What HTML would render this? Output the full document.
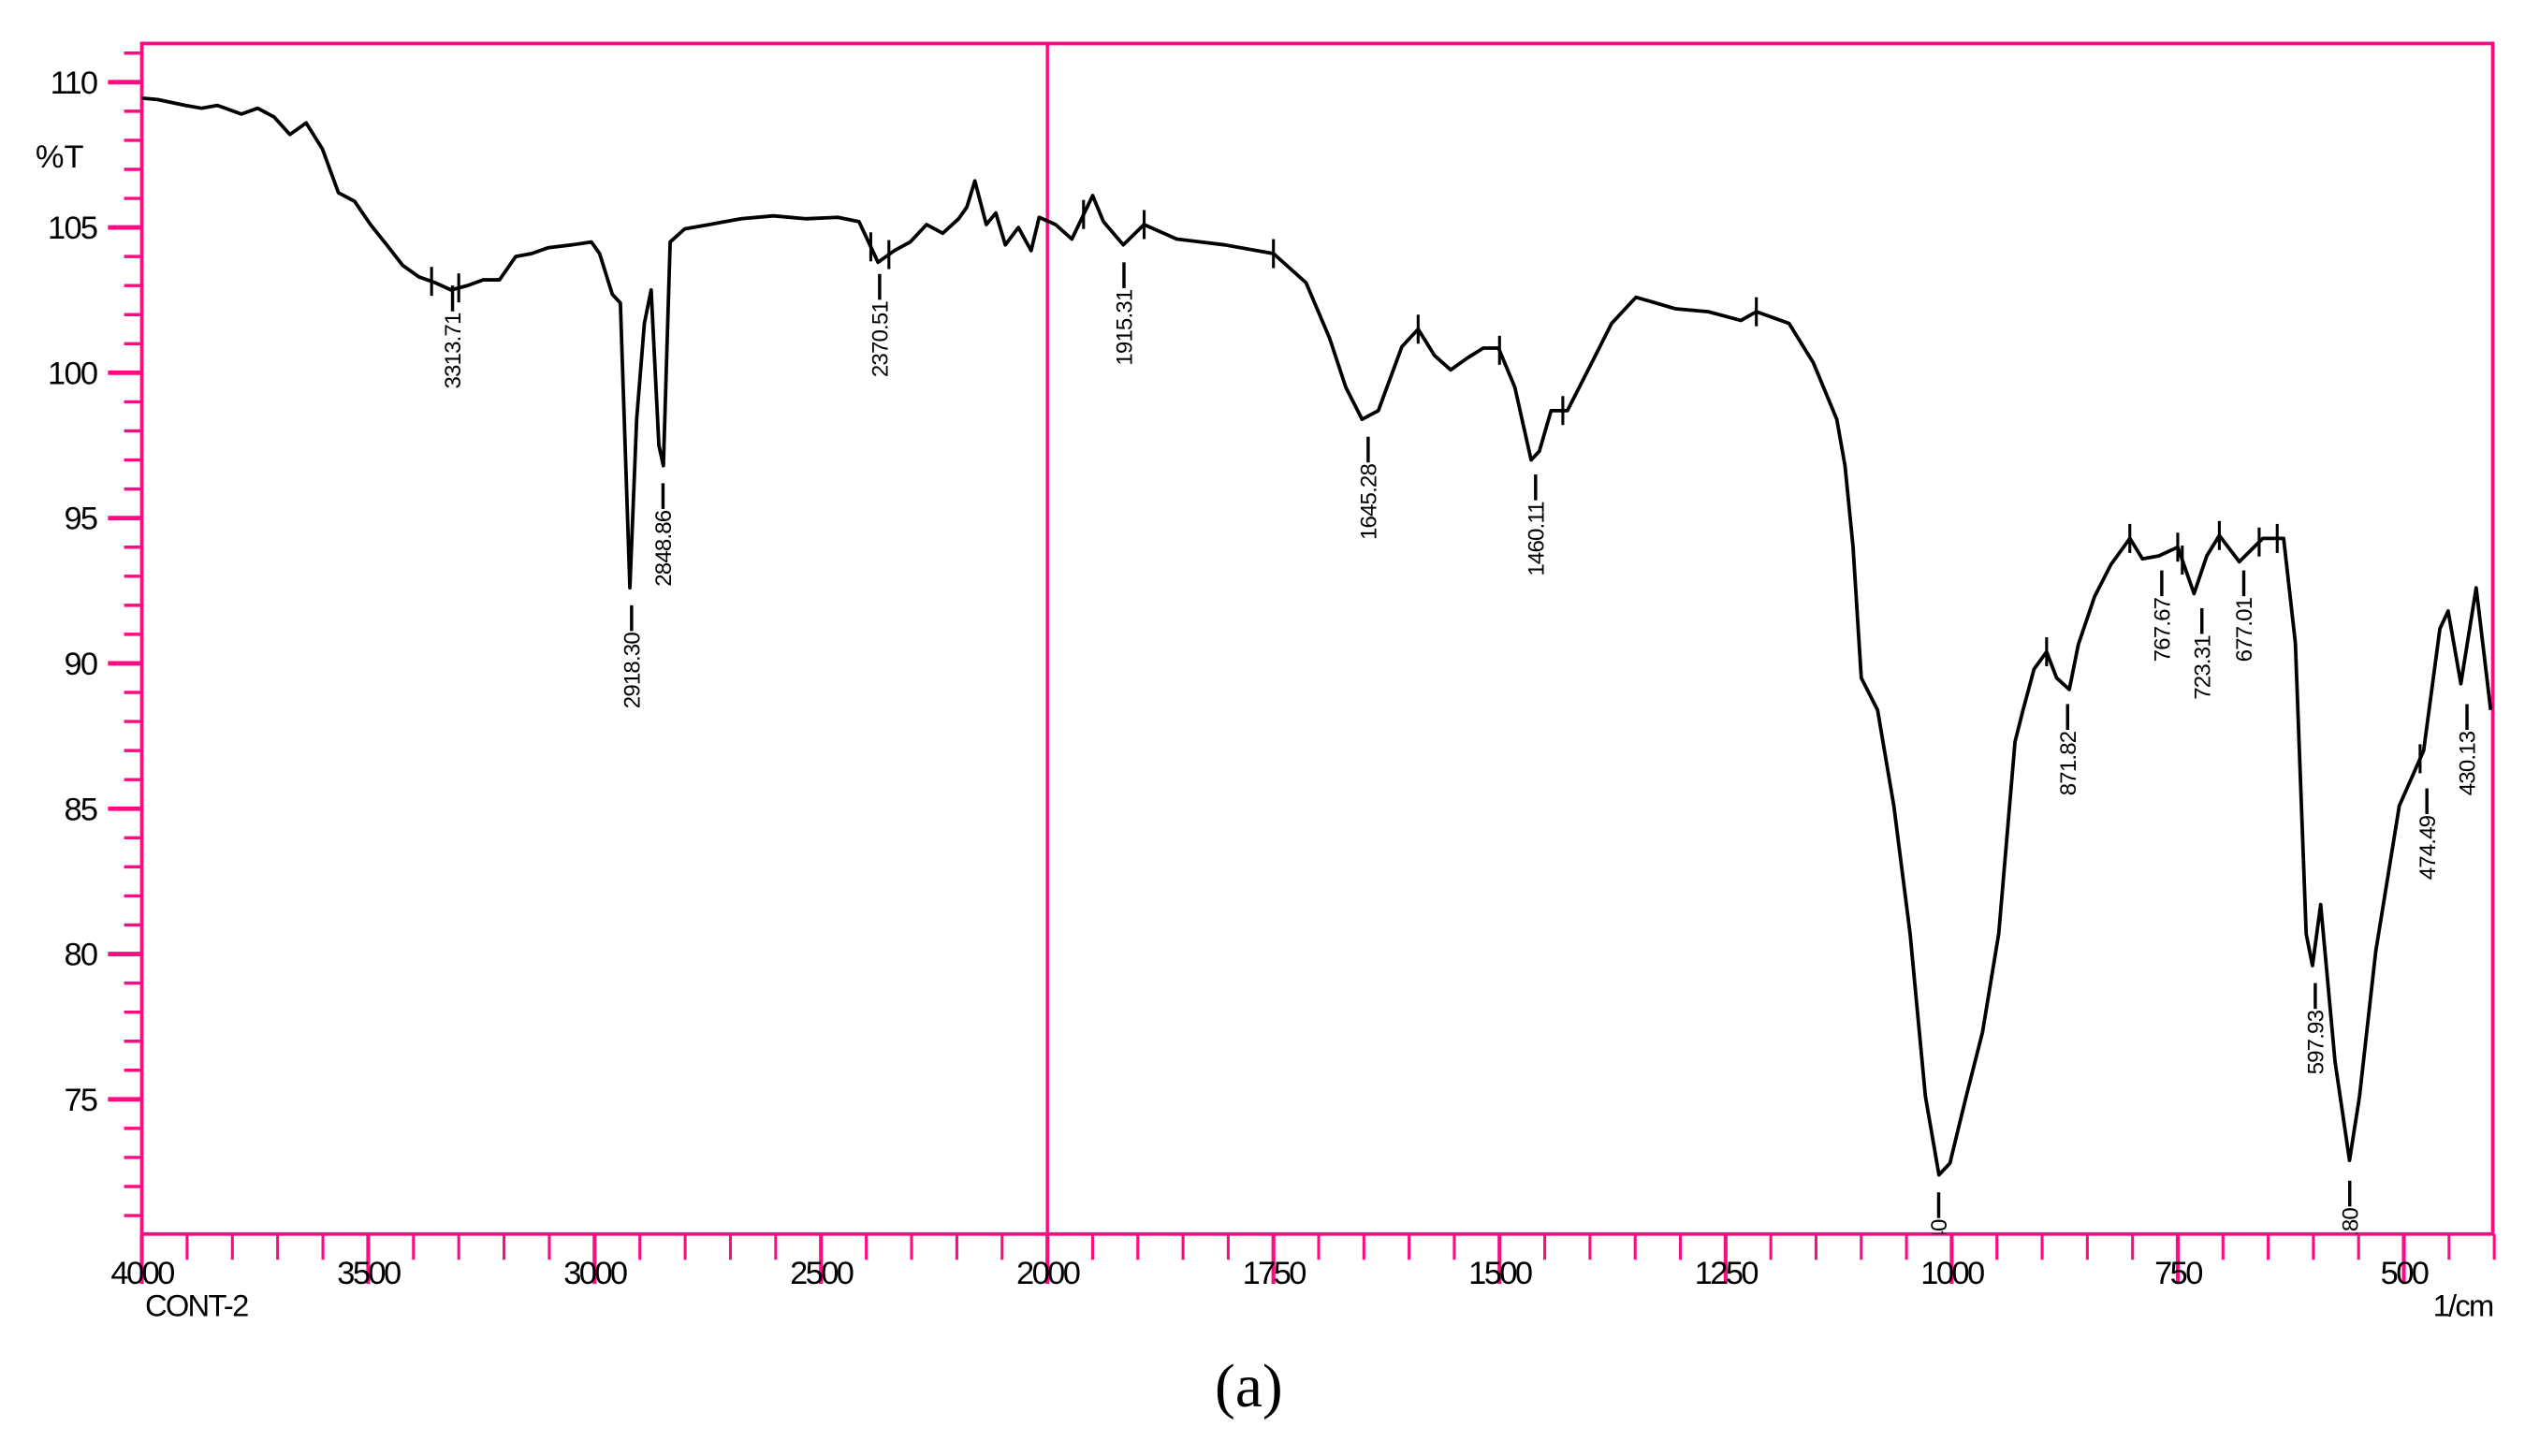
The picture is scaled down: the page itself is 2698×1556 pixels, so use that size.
<!DOCTYPE html>
<html><head><meta charset="utf-8"><style>
html,body{margin:0;padding:0;background:#fff;}
svg{display:block;font-family:"Liberation Sans",sans-serif;}
</style></head><body>
<svg id="chart" width="2698" height="1556" viewBox="0 0 1567 903.8" preserveAspectRatio="none" xmlns="http://www.w3.org/2000/svg">
<defs><clipPath id="plotclip"><rect x="88" y="27" width="1459" height="739"/></clipPath></defs>
<g id="axes"></g>
<g id="series" clip-path="url(#plotclip)"></g>
<text x="90" y="817" font-size="19" letter-spacing="-1">CONT-2</text>
<text x="1547" y="817" font-size="19" letter-spacing="-1" text-anchor="end">1/cm</text>
<text x="22" y="104" font-size="20">%T</text>
<text x="775" y="873" font-size="38" text-anchor="middle" font-family="Liberation Serif,serif">(a)</text>
</svg>
<script>
const wavenumbers=[4000,3965,3904,3868,3833,3780,3744,3708,3673,3637,3601,3566,3530,3495,3459,3424,3388,3352,3317,3281,3246,3210,3174,3139,3103,3050,3007,2989,2961,2943,2922,2907,2890,2875,2858,2848,2833,2801,2747,2676,2605,2534,2463,2416,2374,2338,2303,2267,2231,2196,2178,2160,2135,2114,2093,2064,2036,2018,1991,1973,1950,1938,1916,1893,1857,1804,1750,1714,1688,1670,1652,1634,1608,1590,1572,1554,1536,1518,1501,1483,1465,1456,1443,1425,1402,1376,1349,1305,1269,1233,1216,1180,1153,1127,1118,1109,1100,1082,1064,1046,1029,1014,1002,984,966,948,930,921,909,895,884,870,860,842,824,803,789,771,750,732,718,704,682,656,633,620,608,601,592,576,560,549,531,505,478,460,451,437,420,404];
const transmittance=[109.45,109.4,109.2,109.1,109.2,108.9,109.1,108.8,108.2,108.6,107.7,106.2,105.9,105.1,104.4,103.7,103.3,103.1,102.85,103.0,103.2,103.2,104.0,104.1,104.3,104.4,104.5,104.1,102.7,102.4,92.6,98.4,101.7,102.85,97.5,96.8,104.5,104.95,105.1,105.3,105.4,105.3,105.35,105.2,103.8,104.2,104.5,105.1,104.8,105.3,105.7,106.6,105.1,105.5,104.4,105.0,104.2,105.35,105.1,104.6,106.1,105.2,104.4,105.1,104.6,104.4,104.1,103.1,101.2,99.5,98.4,98.7,100.9,101.5,100.6,100.1,100.5,100.85,100.85,99.5,97.0,97.3,98.7,98.7,100.1,101.7,102.6,102.2,102.1,101.8,102.1,101.7,100.35,98.4,96.8,94.0,89.5,88.4,85.1,80.7,75.1,72.4,72.8,75.1,77.3,80.7,87.3,88.4,89.8,90.4,89.5,89.1,90.65,92.3,93.4,94.3,93.6,93.7,94.0,92.4,93.7,94.4,93.5,94.3,94.3,90.7,80.7,79.6,81.7,76.3,72.9,75.1,80.1,85.1,87.0,91.2,91.8,89.3,92.6,88.4];
const peakLabels=["3313.71","2918.30","2848.86","2370.51","1915.31","1645.28","1460.11","1014.40","871.82","767.67","723.31","677.01","597.93","559.80","474.49","430.13"];
const peakWavenumbers=[3313.71,2918.30,2848.86,2370.51,1915.31,1645.28,1460.11,1014.40,871.82,767.67,723.31,677.01,597.93,559.80,474.49,430.13];
const peakLabelTops=[103.0,92.0,96.2,103.4,103.8,97.8,96.5,71.8,88.6,93.2,91.9,93.2,79.0,72.2,85.7,88.6];
const curveTickWns=[3360,3300,2390,2350,1960,1893,1750,1590,1500,1430,1216,895,803,750,745,704,660,640,482];
const yTickLabels=[75,80,85,90,95,100,105,110];
const xTickLabels=[4000,3500,3000,2500,2000,1750,1500,1250,1000,750,500];

const PINK="#ff0a82",NS="http://www.w3.org/2000/svg";
function xScale(w){return w>=2000?88+(4000-w)/500*140.5:650+(2000-w)/250*140.3;}
function yScale(t){return 51+(110-t)*18.04;}
function mk(tag,attrs,parent){const e=document.createElementNS(NS,tag);for(const k in attrs)e.setAttribute(k,attrs[k]);parent.appendChild(e);return e;}
const axes=document.getElementById('axes'),series=document.getElementById('series');

const frame=mk('rect',{x:88,y:27,width:1459,height:739,fill:'none',stroke:PINK,'stroke-width':2.2},axes);


const mid=mk('line',{x1:xScale(2000),x2:xScale(2000),y1:27,y2:766,stroke:PINK,'stroke-width':2},axes);



for(let t=71;t<=111;t++){
  const major=yTickLabels.includes(t);
  const tk=mk('line',{x1:major?67:77,x2:88,y1:yScale(t),y2:yScale(t),stroke:PINK,'stroke-width':major?2.8:2},axes);
  
  
}
yTickLabels.forEach(v=>{
  const tx=mk('text',{x:60,y:yScale(v)+7,'font-size':20,'text-anchor':'end','letter-spacing':'-1'},axes);
  tx.textContent=v;
  
  
});
const minorX=[];
for(let w=4000;w>2000;w-=100)minorX.push(w);
for(let w=2000;w>=400;w-=50)minorX.push(w);
minorX.forEach(w=>{
  const major=xTickLabels.includes(w);
  const tk=mk('line',{x1:xScale(w),x2:xScale(w),y1:766,y2:major?797:782,stroke:PINK,'stroke-width':major?2.4:1.8},axes);
  
  
});
xTickLabels.forEach(v=>{
  const tx=mk('text',{x:xScale(v),y:797,'font-size':20,'text-anchor':'middle','letter-spacing':'-1.5'},axes);
  tx.textContent=v;
  
  
});

let d='';
wavenumbers.forEach((w,i)=>{d+=(i?'L':'M')+xScale(w).toFixed(1)+','+yScale(transmittance[i]).toFixed(1);});
const path=mk('path',{d:d,fill:'none',stroke:'#000','stroke-width':2.2,'stroke-linejoin':'round'},series);



function interp(w){
  for(let i=0;i<wavenumbers.length-1;i++){
    if(w<=wavenumbers[i]&&w>=wavenumbers[i+1]){const f=(wavenumbers[i]-w)/(wavenumbers[i]-wavenumbers[i+1]);return transmittance[i]+f*(transmittance[i+1]-transmittance[i]);}
  }
  return transmittance[transmittance.length-1];
}
curveTickWns.forEach(w=>{
  const y=yScale(interp(w));
  const tk=mk('line',{x1:xScale(w),x2:xScale(w),y1:y-9,y2:y+9,stroke:'#000','stroke-width':1.8},series);
  
  
});
peakLabels.forEach((lab,i)=>{
  const x=xScale(peakWavenumbers[i]),y0=yScale(peakLabelTops[i]);
  const ln=mk('line',{x1:x,x2:x,y1:y0,y2:y0+16,stroke:'#000','stroke-width':2},series);
  
  
  const tx=mk('text',{transform:'translate('+(x+5)+','+(y0+17)+') rotate(-90)','font-size':14,'text-anchor':'end','letter-spacing':'-0.5'},series);
  tx.textContent=lab;
  
  
});
</script>
</body></html>
